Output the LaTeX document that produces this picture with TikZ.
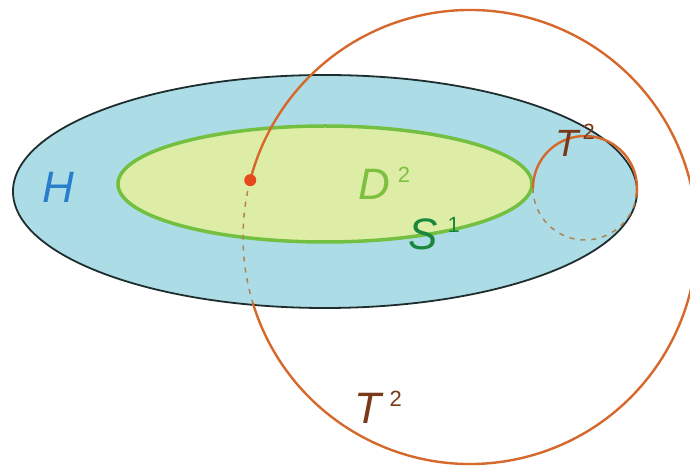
\documentclass[tikz,border=0pt]{standalone}
\usepackage{fontspec}
\setmainfont{Liberation Sans}
\definecolor{hfill}{RGB}{172,220,230}
\definecolor{hline}{RGB}{30,45,45}
\definecolor{dfill}{RGB}{222,237,165}
\definecolor{dline}{RGB}{115,192,65}
\definecolor{torange}{RGB}{214,104,44}
\definecolor{tdash}{RGB}{176,130,85}
\definecolor{reddot}{RGB}{232,72,30}
\definecolor{hblue}{RGB}{40,125,205}
\definecolor{dgreen}{RGB}{125,192,65}
\definecolor{sgreen}{RGB}{25,135,60}
\definecolor{tbrown}{RGB}{120,58,25}
\newcommand{\suplbl}[3]{\textit{#1}\hspace{#3}\raisebox{17pt}{\fontsize{22}{22}\selectfont #2}}
\tikzset{
  lbl/.style={anchor=base west, inner sep=0pt, font=\fontsize{44}{44}\selectfont},
  solidarc/.style={draw=torange, line width=2.4pt},
  dasharc/.style={draw=tdash, line width=1.5pt, dash pattern=on 5pt off 6pt},
}
\begin{document}
\begin{tikzpicture}[x=1pt,y=1pt]
\useasboundingbox (0,0) rectangle (690,471);
\clip (0,0) rectangle (690,471);
% H
\fill[hfill] (325,279.5) ellipse [x radius=312, y radius=116.5];
\draw[hline, line width=1.8pt] (325,279.5) ellipse [x radius=312, y radius=116.5];
% D^2
\filldraw[fill=dfill, draw=dline, line width=3.5pt] (325,287) ellipse [x radius=207, y radius=58];
% small circle T
\coordinate (tc) at (585,283);
\draw[dasharc] ([shift={(180:52)}]tc) arc[start angle=180, end angle=350, radius=52];
\draw[solidarc] ([shift={(-10:52)}]tc) arc[start angle=-10, end angle=180, radius=52];
% big circle T^2
\coordinate (bc) at (470,234);
\draw[dasharc] ([shift={(165.5:227)}]bc) arc[start angle=165.5, end angle=196.8, radius=227];
\draw[solidarc] ([shift={(196.8:227)}]bc) arc[start angle=196.8, end angle=525.5, radius=227];
% red point
\fill[reddot] ([shift={(165.5:227)}]bc) circle (6);
% labels
\node[lbl, text=hblue] (h) at (42,268) {\textit{H}};
\node[lbl, text=dgreen] (d) at (358,271) {\suplbl{D}{2}{8pt}};
\node[lbl, text=sgreen] (s) at (408,221) {\suplbl{S}{1}{10pt}};
\node[lbl, text=tbrown] (t) at (354,48) {\suplbl{T}{2}{6pt}};
\node[lbl, text=tbrown, font=\fontsize{38}{38}\selectfont] (tt) at (555,314) {\suplbl{T}{2}{2pt}};
\end{tikzpicture}
\end{document}
